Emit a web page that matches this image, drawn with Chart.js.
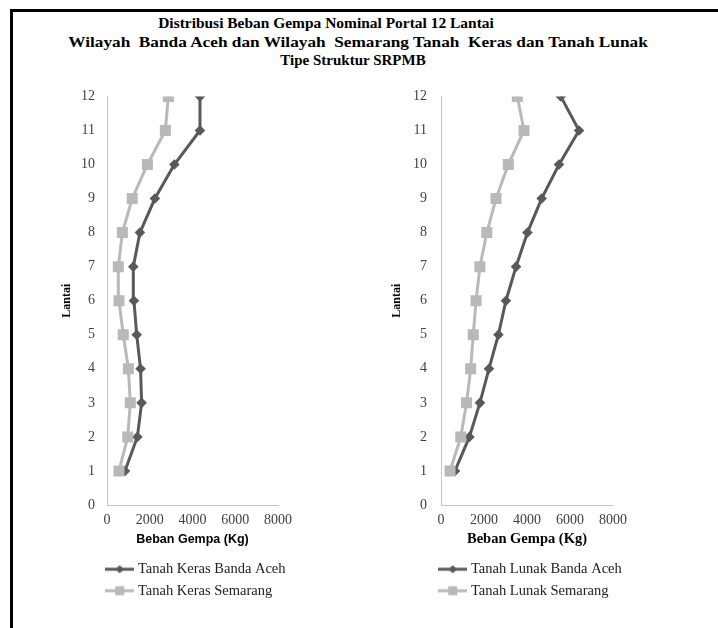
<!DOCTYPE html>
<html><head><meta charset="utf-8">
<script src="https://cdn.jsdelivr.net/npm/chart.js@4.4.1/dist/chart.umd.min.js"></script>
<style>
html,body{margin:0;padding:0;background:#fff;width:718px;height:628px;overflow:hidden;position:relative;}
#frame{position:absolute;left:10px;top:9px;width:708px;height:619px;border-left:3px solid #000;border-top:3px solid #000;box-sizing:border-box;}
.t{position:absolute;font-family:"Liberation Serif","Times New Roman",serif;font-weight:bold;font-size:15px;color:#000;white-space:nowrap;line-height:18px;transform-origin:50% 50%;}
.cv{position:absolute;width:359px;}
</style></head><body>
<div id="frame"></div>
<div class="t" style="left:326px;top:14px;transform:translateX(-50%) scaleX(1.03)">Distribusi Beban Gempa Nominal Portal 12 Lantai</div>
<div class="t" style="left:358px;top:33px;transform:translateX(-50%) scaleX(1.15)">Wilayah&nbsp; Banda Aceh dan Wilayah&nbsp; Semarang Tanah&nbsp; Keras dan Tanah Lunak</div>
<div class="t" style="left:353px;top:51px;transform:translateX(-50%)">Tipe Struktur SRPMB</div>
<div class="cv" style="left:0px;top:76px;height:554px"><canvas id="c1" width="359" height="554"></canvas></div>
<div class="cv" style="left:359px;top:74px;height:556px"><canvas id="c2" width="359" height="556"></canvas></div>
<script>
// ---- data ----
const floors = [1,2,3,4,5,6,7,8,9,10,11,12];
const xTicks = [0, 2000, 4000, 6000, 8000];
const yTicks = [0,1,2,3,4,5,6,7,8,9,10,11,12];
const kerasBandaAceh = [840, 1420, 1620, 1570, 1390, 1260, 1230, 1540, 2240, 3150, 4350, 4350];
const kerasSemarang  = [560, 970, 1090, 1000, 760, 560, 530, 720, 1180, 1890, 2730, 2870];
const lunakBandaAceh = [650, 1320, 1810, 2230, 2670, 3020, 3490, 4020, 4680, 5490, 6420, 5570];
const lunakSemarang  = [420, 920, 1190, 1380, 1500, 1630, 1810, 2130, 2560, 3130, 3860, 3550];
const leftLabels  = ['Tanah Keras Banda Aceh', 'Tanah Keras Semarang'];
const rightLabels = ['Tanah Lunak Banda Aceh', 'Tanah Lunak Semarang'];
const xTitle = 'Beban Gempa (Kg)';
const yTitle = 'Lantai';

const DARK = '#595959', LIGHT = '#b9b9b9';
const SERIF = '"Liberation Serif","Times New Roman",serif';

function legendIcon(color, shape) {
  const c = document.createElement('canvas');
  c.width = 29; c.height = 12;
  const g = c.getContext('2d');
  g.strokeStyle = color; g.lineWidth = 3;
  g.beginPath(); g.moveTo(0, 6); g.lineTo(29, 6); g.stroke();
  g.fillStyle = color;
  g.beginPath();
  if (shape === 'diamond') {
    g.moveTo(14.5, 2); g.lineTo(19, 6); g.lineTo(14.5, 10); g.lineTo(10, 6); g.closePath();
  } else {
    g.rect(10, 1.5, 9, 9);
  }
  g.fill();
  return c;
}
const icons = [legendIcon(DARK, 'diamond'), legendIcon(LIGHT, 'square')];

const legendShift = {
  id: 'legendShift',
  afterLayout(chart, args, opts) {
    const l = chart.legend; if (!l) return;
    l.left += opts.dx; l.right += opts.dx;
  }
};

function toPts(vals) { return vals.map((v, i) => ({x: v, y: floors[i]})); }

function makeChart(id, darkVals, lightVals, labels, cfg) {
  return new Chart(document.getElementById(id), {
    type: 'scatter',
    data: {
      datasets: [
        {label: labels[0], data: toPts(darkVals), showLine: true, borderColor: DARK, backgroundColor: DARK,
         borderWidth: 3, pointStyle: 'rectRot', pointRadius: 5.3, pointBorderWidth: 0, order: 1},
        {label: labels[1], data: toPts(lightVals), showLine: true, borderColor: LIGHT, backgroundColor: LIGHT,
         borderWidth: 3, pointStyle: 'rect', pointRadius: 7.8, pointBorderWidth: 0, order: 0}
      ]
    },
    options: {
      responsive: false, animation: false,
      layout: {padding: cfg.padding},
      scales: {
        x: {
          type: 'linear', min: xTicks[0], max: xTicks[xTicks.length - 1],
          afterBuildTicks: s => { s.ticks = xTicks.map(v => ({value: v})); },
          afterFit: s => { s.height = 50; },
          grid: {display: false, drawTicks: false},
          border: {display: true, color: '#c4c4c4', width: 1},
          ticks: {padding: 7, color: '#404040', font: {family: SERIF, size: 14}, maxRotation: 0,
                  callback: v => String(v)},
          title: {display: true, text: xTitle, color: '#000', font: cfg.xTitleFont, padding: {top: 0, bottom: cfg.xTitlePad}}
        },
        y: {
          type: 'linear', min: yTicks[0], max: yTicks[yTicks.length - 1],
          afterBuildTicks: s => { s.ticks = yTicks.map(v => ({value: v})); },
          afterFit: s => { s.width = 52; },
          grid: {display: false, drawTicks: false},
          border: {display: true, color: '#c4c4c4', width: 1},
          ticks: {padding: cfg.yTickPad, color: '#404040', font: {family: SERIF, size: 14}, callback: v => String(v)},
          title: {display: true, text: yTitle, color: '#000', font: {family: SERIF, size: 12, weight: 'bold'}, padding: {top: cfg.yTitlePad, bottom: 0}}
        }
      },
      plugins: {
        tooltip: {enabled: false},
        legendShift: {dx: cfg.dx},
        legend: {
          position: 'bottom', align: 'start',
          labels: {
            usePointStyle: true, pointStyleWidth: 22, padding: 7,
            color: '#222', font: {family: SERIF, size: 14.5},
            sort: (a, b) => a.datasetIndex - b.datasetIndex,
            generateLabels: chart => Chart.defaults.plugins.legend.labels.generateLabels(chart)
              .map(it => Object.assign(it, {pointStyle: icons[it.datasetIndex]}))
          }
        }
      }
    },
    plugins: [legendShift]
  });
}

makeChart('c1', kerasBandaAceh, kerasSemarang, leftLabels, {
  padding: {left: 55, right: 81, top: 4, bottom: 22},
  xTitleFont: {family: '"Liberation Sans",Arial,sans-serif', size: 12.5, weight: 'bold'},
  xTitlePad: 8, yTickPad: 12, yTitlePad: 5, dx: 46.75
});
makeChart('c2', lunakBandaAceh, lunakSemarang, rightLabels, {
  padding: {left: 30, right: 105, top: 4, bottom: 22},
  xTitleFont: {family: SERIF, size: 14.5, weight: 'bold'},
  xTitlePad: 7, yTickPad: 14, yTitlePad: 1, dx: 45.75
});
</script>
</body></html>
